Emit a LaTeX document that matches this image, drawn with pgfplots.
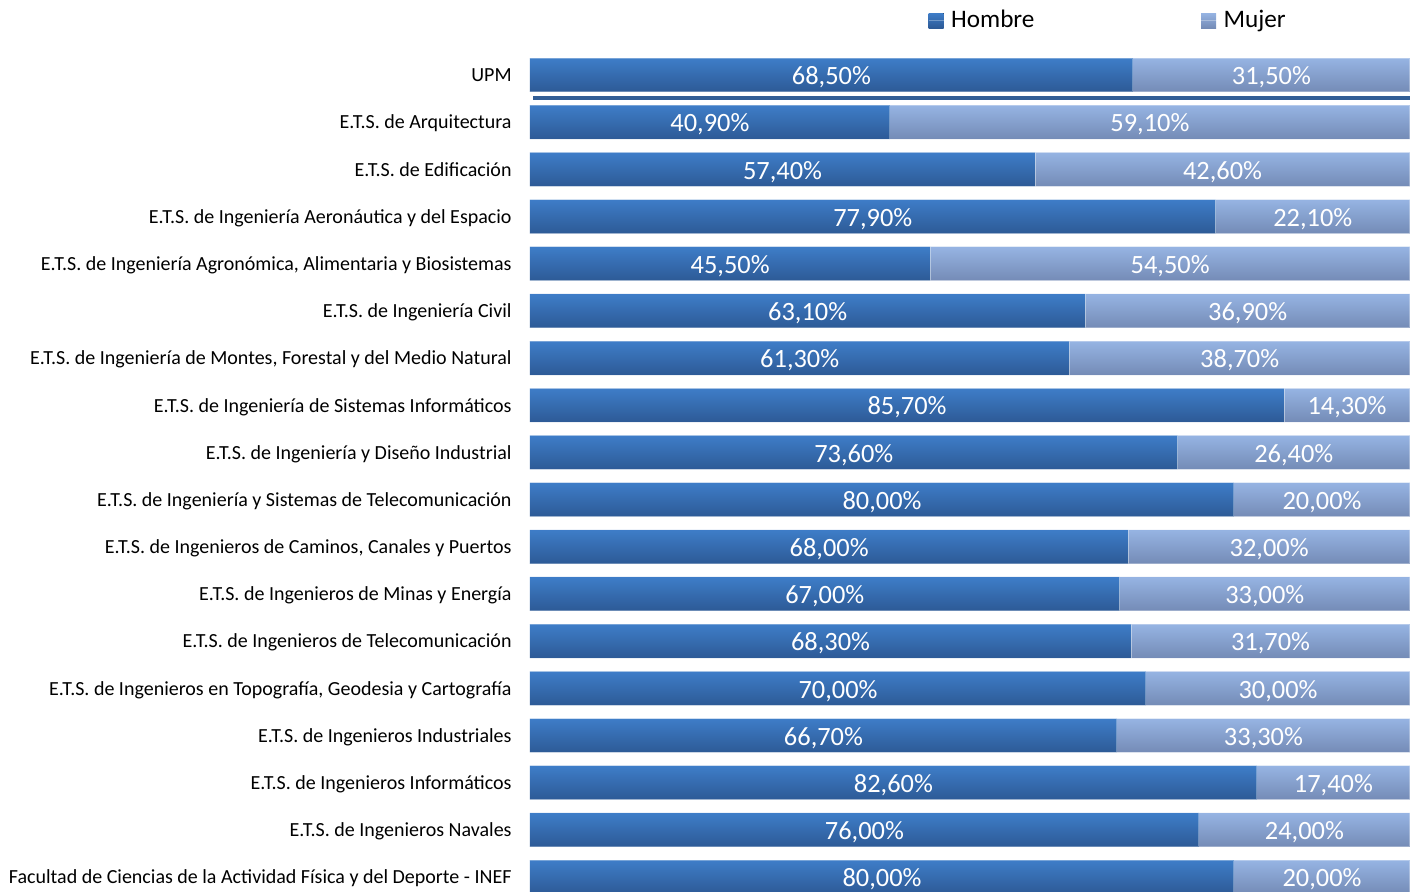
\documentclass[border=0pt]{standalone}
\usepackage{pgfplots}
\pgfplotsset{compat=1.18}
\usepackage{pgfplotstable}
\usepackage{fontspec}
\setmainfont{Carlito}
\definecolor{hTop}{RGB}{62,125,200}
\definecolor{hBot}{RGB}{45,90,150}
\definecolor{mTop}{RGB}{150,180,227}
\definecolor{mBot}{RGB}{116,139,182}
\definecolor{sepc}{RGB}{50,94,150}

% one gradient per bar: 18 bands mapped onto the bars' bounding box (25bp..75bp)
\def\mkshade#1#2#3{\pgfdeclareverticalshading{#1}{100bp}{color(0bp)=(#2); color(25bp)=(#2);
 color(27.032bp)=(#3); color(27.822bp)=(#2); color(29.853bp)=(#3);
 color(30.643bp)=(#2); color(32.675bp)=(#3); color(33.465bp)=(#2); color(35.497bp)=(#3);
 color(36.287bp)=(#2); color(38.318bp)=(#3); color(39.109bp)=(#2); color(41.140bp)=(#3);
 color(41.930bp)=(#2); color(43.962bp)=(#3); color(44.752bp)=(#2); color(46.783bp)=(#3);
 color(47.573bp)=(#2); color(49.605bp)=(#3); color(50.395bp)=(#2); color(52.427bp)=(#3);
 color(53.217bp)=(#2); color(55.248bp)=(#3); color(56.038bp)=(#2); color(58.070bp)=(#3);
 color(58.860bp)=(#2); color(60.892bp)=(#3); color(61.682bp)=(#2); color(63.713bp)=(#3);
 color(64.504bp)=(#2); color(66.535bp)=(#3); color(67.325bp)=(#2); color(69.357bp)=(#3);
 color(70.147bp)=(#2); color(72.178bp)=(#3); color(72.968bp)=(#2); color(75bp)=(#3);
 color(100bp)=(#3)}}
\mkshade{hshade}{hBot}{hTop}
\mkshade{mshade}{mBot}{mTop}

\pgfplotstableread[col sep=semicolon]{
idx;h;m;name
0;68.5;31.5;UPM
1;40.9;59.1;E.T.S. de Arquitectura
2;57.4;42.6;E.T.S. de Edificación
3;77.9;22.1;E.T.S. de Ingeniería Aeronáutica y del Espacio
4;45.5;54.5;E.T.S. de Ingeniería Agronómica, Alimentaria y Biosistemas
5;63.1;36.9;E.T.S. de Ingeniería Civil
6;61.3;38.7;E.T.S. de Ingeniería de Montes, Forestal y del Medio Natural
7;85.7;14.3;E.T.S. de Ingeniería de Sistemas Informáticos
8;73.6;26.4;E.T.S. de Ingeniería y Diseño Industrial
9;80.0;20.0;E.T.S. de Ingeniería y Sistemas de Telecomunicación
10;68.0;32.0;E.T.S. de Ingenieros de Caminos, Canales y Puertos
11;67.0;33.0;E.T.S. de Ingenieros de Minas y Energía
12;68.3;31.7;E.T.S. de Ingenieros de Telecomunicación
13;70.0;30.0;E.T.S. de Ingenieros en Topografía, Geodesia y Cartografía
14;66.7;33.3;E.T.S. de Ingenieros Industriales
15;82.6;17.4;E.T.S. de Ingenieros Informáticos
16;76.0;24.0;E.T.S. de Ingenieros Navales
17;80.0;20.0;Facultad de Ciencias de la Actividad Física y del Deporte - INEF
}\datatable

\pgfplotsset{
  common/.style={
    scale only axis, width=440pt, height=421pt,
    xmin=0, xmax=100, ymin=-0.53, ymax=17.317, y dir=reverse,
  },
  vallabel/.style={
    draw=none, mark=none, point meta=explicit,
    nodes near coords={\pgfmathprintnumber[fixed,fixed zerofill,precision=2,use comma,assume math mode=true]{\pgfplotspointmeta}\%},
    every node near coord/.append style={anchor=center, text=white, inner sep=0pt,
      yshift=-1.2pt, font=\fontsize{13.2}{15}\selectfont},
  },
}

\begin{document}
\begin{tikzpicture}
\begin{axis}[common, name=main,
  xbar stacked, bar width=0.72,
  axis line style={draw=none}, tick style={draw=none}, major tick length=0pt,
  xtick=\empty, ytick={0,...,17},
  yticklabels from table={\datatable}{name},
  yticklabel style={font=\fontsize{10}{12}\selectfont, inner sep=0pt,
    anchor=base east, xshift=-9pt, yshift=-3.4pt},
  every axis plot post/.append style={
    legend image code/.code={\fill[##1, legsq] (0pt,-3.75pt) rectangle (7.5pt,3.75pt);
      \path (0pt,0pt) -- (9pt,0pt);}},
  legend style={at={(0.452,1.035)}, anchor=west, draw=none, fill=none,
    inner sep=0pt, legend columns=2, font=\fontsize{12.6}{15}\selectfont,
    /tikz/every even column/.append style={column sep=81pt}},
  legend cell align=left,
]
\addplot[shading=hshade, draw=white, draw opacity=0.3, line width=0.5pt,
  /tikz/legsq/.style={draw=none, top color=hTop, bottom color=hBot}]
  table[x=h, y=idx]{\datatable};
\addplot[shading=mshade, draw=white, draw opacity=0.3, line width=0.5pt,
  /tikz/legsq/.style={draw=none, top color=mTop, bottom color=mBot}]
  table[x=m, y=idx]{\datatable};
\legend{Hombre, Mujer}
\draw[sepc, line width=1.75pt] (axis cs:0.35,0.49) -- (axis cs:100,0.49);
\end{axis}
\begin{axis}[common, hide axis]
\addplot[vallabel] table[x expr=\thisrow{h}/2, y=idx, meta=h]{\datatable};
\addplot[vallabel] table[x expr=\thisrow{h}+\thisrow{m}/2, y=idx, meta=m]{\datatable};
\end{axis}
\pgfresetboundingbox
\path[use as bounding box] ([xshift=-265pt]main.south west) rectangle ([xshift=2.5pt,yshift=25pt]main.north east);
\end{tikzpicture}
\end{document}
